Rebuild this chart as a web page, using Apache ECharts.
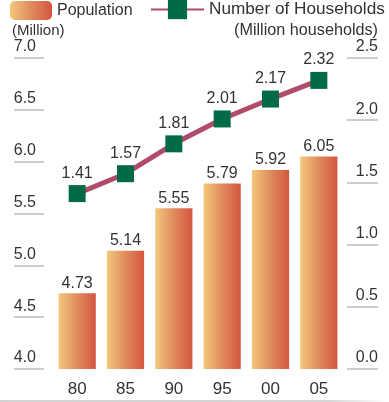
<!DOCTYPE html>
<html>
<head>
<meta charset="utf-8">
<script src="https://cdn.jsdelivr.net/npm/echarts@6/dist/echarts.min.js"></script>
<style>html,body{margin:0;padding:0;background:#fff;}#c{width:389px;height:402px;}</style>
</head>
<body>
<div id="c"></div>
<script>
var categories = ['80', '85', '90', '95', '00', '05'];
var population = [4.73, 5.14, 5.55, 5.79, 5.92, 6.05];
var households = [1.41, 1.57, 1.81, 2.01, 2.17, 2.32];
var leftTicks = { min: 4, max: 7, interval: 0.5 };
var rightTicks = { min: 0, max: 2.5, interval: 0.5 };

var FONT = '"Liberation Sans", Arial, Helvetica, sans-serif';
var TXT = '#333';
var barGrad = new echarts.graphic.LinearGradient(0, 0, 1, 0, [
  { offset: 0, color: '#f2c87c' },
  { offset: 0.5, color: '#e08b5d' },
  { offset: 1, color: '#d45640' }
]);

var chart = echarts.init(document.getElementById('c'), null, { renderer: 'canvas' });
chart.setOption({
  backgroundColor: '#fff',
  animation: false,
  textStyle: { fontFamily: FONT, color: TXT },
  title: [
    { text: '(Million)', left: 7, top: 18, textStyle: { fontSize: 15, fontWeight: 'normal', color: TXT, fontFamily: FONT } },
    { text: '(Million households)', right: 6, top: 18, textStyle: { fontSize: 16.2, fontWeight: 'normal', color: TXT, fontFamily: FONT } }
  ],
  legend: [
    { data: ['Population'], left: 5, top: -4, itemWidth: 42, itemHeight: 19,
      textStyle: { fontSize: 16, color: TXT, fontFamily: FONT } },
    { data: ['Number of Households'], left: 145, top: -5, itemWidth: 53, itemHeight: 24,
      textStyle: { fontSize: 17.2, color: TXT, fontFamily: FONT } }
  ],
  grid: { left: 53, right: 46, top: 58, bottom: 33, containLabel: false },
  xAxis: {
    type: 'category', data: categories,
    axisLine: { show: false }, axisTick: { show: false },
    axisLabel: { fontSize: 17, color: TXT, margin: 12, fontFamily: FONT }
  },
  yAxis: [
    { type: 'value', min: leftTicks.min, max: leftTicks.max, interval: leftTicks.interval,
      position: 'left', offset: 9,
      axisLine: { show: true, lineStyle: { color: 'rgba(0,0,0,0)' } }, splitLine: { show: false },
      axisTick: { show: true, length: 30, lineStyle: { color: '#bdbdbd', width: 1.5 } },
      axisLabel: { formatter: function (v) { return v.toFixed(1); }, verticalAlign: 'bottom',
        margin: 8, fontSize: 16, color: TXT, fontFamily: FONT, padding: [0, 0, 3, 0] } },
    { type: 'value', min: rightTicks.min, max: rightTicks.max, interval: rightTicks.interval,
      position: 'right', offset: 4,
      axisLine: { show: true, lineStyle: { color: 'rgba(0,0,0,0)' } }, splitLine: { show: false },
      axisTick: { show: true, length: 31, lineStyle: { color: '#bdbdbd', width: 1.5 } },
      axisLabel: { formatter: function (v) { return v.toFixed(1); }, verticalAlign: 'bottom', align: 'right',
        margin: 31, fontSize: 16, color: TXT, fontFamily: FONT, padding: [0, 0, 3, 0] } }
  ],
  graphic: [
    { type: 'line', shape: { x1: 0, y1: 401, x2: 385, y2: 401 },
      style: { lineWidth: 1.5, stroke: new echarts.graphic.LinearGradient(0, 0, 1, 0, [
        { offset: 0, color: '#c4c4c4' }, { offset: 0.85, color: '#c8c8c8' }, { offset: 1, color: '#ffffff' }]) } }
  ],
  series: [
    { name: 'Population', type: 'bar', yAxisIndex: 0, data: population,
      barCategoryGap: '23%',
      itemStyle: { color: barGrad },
      label: { show: true, position: 'top', distance: 2, fontSize: 16, color: TXT, fontFamily: FONT,
        formatter: function (p) { return p.value.toFixed(2); } } },
    { name: 'Number of Households', type: 'line', yAxisIndex: 1, data: households,
      symbol: 'rect', symbolSize: 17,
      lineStyle: { color: '#b04c69', width: 5 },
      itemStyle: { color: '#006b45' },
      label: { show: true, position: 'top', distance: 4, fontSize: 16, color: TXT, fontFamily: FONT,
        formatter: function (p) { return p.value.toFixed(2); } },
      z: 5 }
  ]
});
</script>
</body>
</html>
